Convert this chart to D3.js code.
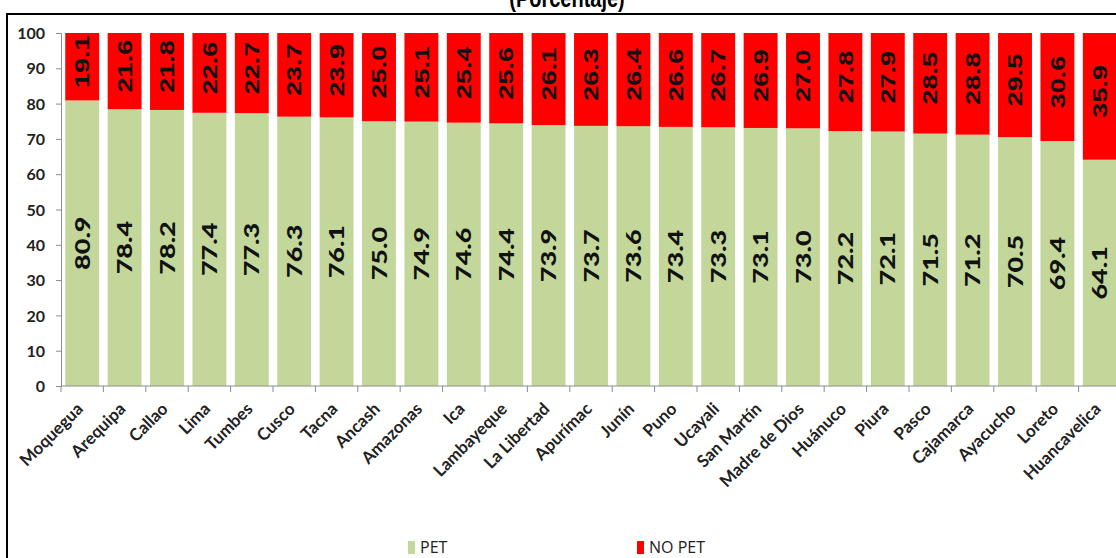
<!DOCTYPE html>
<html>
<head>
<meta charset="utf-8">
<script src="https://cdn.jsdelivr.net/npm/d3@7"></script>
<style>
  html, body { margin: 0; padding: 0; background: #fff; }
  svg { display: block; }
</style>
</head>
<body>
<svg id="chart" width="1116" height="558"></svg>
<script>
const categories = ["Moquegua","Arequipa","Callao","Lima","Tumbes","Cusco","Tacna","Ancash","Amazonas","Ica","Lambayeque","La Libertad","Apurímac","Junín","Puno","Ucayali","San Martín","Madre de Dios","Huánuco","Piura","Pasco","Cajamarca","Ayacucho","Loreto","Huancavelica"];
const pet   = [80.9,78.4,78.2,77.4,77.3,76.3,76.1,75.0,74.9,74.6,74.4,73.9,73.7,73.6,73.4,73.3,73.1,73.0,72.2,72.1,71.5,71.2,70.5,69.4,64.1];
const noPet = [19.1,21.6,21.8,22.6,22.7,23.7,23.9,25.0,25.1,25.4,25.6,26.1,26.3,26.4,26.6,26.7,26.9,27.0,27.8,27.9,28.5,28.8,29.5,30.6,35.9];
const yTicks = [0,10,20,30,40,50,60,70,80,90,100];
const seriesNames = ["PET","NO PET"];
const title = "(Porcentaje)";

const colors = { "PET": "#c4d79b", "NO PET": "#ff0000" };

const svg = d3.select("#chart");

// frame
svg.append("rect").attr("x", 7).attr("y", 14).attr("width", 1200).attr("height", 700)
  .attr("fill", "none").attr("stroke", "#000").attr("stroke-width", 2);

// title (mostly cut off at top, as in the source)
svg.append("text").attr("x", 567).attr("y", 7)
  .attr("text-anchor", "middle")
  .attr("font-family", "Liberation Sans, Arial, sans-serif")
  .attr("font-weight", "bold").attr("font-size", 20)
  .attr("transform", "translate(0,7) scale(1,1.25) translate(0,-7)")
  .text(title);

const x = d3.scaleBand().domain(categories).range([61, 1121]).paddingInner(0.2).paddingOuter(0.1);
const y = d3.scaleLinear().domain([0, 100]).range([386, 33]);

const rows = categories.map((c, i) => ({ cat: c, "PET": pet[i], "NO PET": noPet[i] }));
const stack = d3.stack().keys(seriesNames)(rows);

// bars
const layers = svg.append("g").selectAll("g").data(stack).join("g")
  .attr("fill", d => colors[d.key]);
layers.selectAll("rect").data(d => d).join("rect")
  .attr("x", d => x(d.data.cat))
  .attr("width", x.bandwidth())
  .attr("y", d => y(Math.min(d[1], 100)))
  .attr("height", d => y(d[0]) - y(Math.min(d[1], 100)));

// y axis
const yAxis = svg.append("g").attr("transform", "translate(61,0)")
  .call(d3.axisLeft(y).tickValues(yTicks).tickSize(5).tickPadding(11));
yAxis.select(".domain").attr("stroke", "#8c8c8c");
yAxis.selectAll(".tick line").attr("stroke", "#8c8c8c");
yAxis.selectAll(".tick text")
  .attr("font-family", "Lato, 'Open Sans', sans-serif")
  .attr("font-weight", "bold").attr("font-size", 16).attr("fill", "#222")
  .attr("dy", "0.35em");

// x axis
const step = x.step();
const xAxisG = svg.append("g").attr("transform", "translate(0,386)");
xAxisG.append("line").attr("x1", 61).attr("x2", 1121).attr("y1", 0).attr("y2", 0)
  .attr("stroke", "#8c8c8c");
xAxisG.selectAll("line.tk").data(categories).join("line").attr("class", "tk")
  .attr("x1", d => x(d) - step * x.paddingInner() / 2)
  .attr("x2", d => x(d) - step * x.paddingInner() / 2)
  .attr("y1", 0).attr("y2", 6).attr("stroke", "#8c8c8c");
xAxisG.selectAll("text").data(categories).join("text")
  .attr("text-anchor", "end")
  .attr("font-family", "Lato, 'Open Sans', sans-serif")
  .attr("font-weight", "bold").attr("font-size", 17).attr("fill", "#222")
  .attr("transform", d => `translate(${x(d) + x.bandwidth() / 2 + 2},${24}) rotate(-45)`)
  .text(d => d);

// value labels
const labG = svg.append("g");
labG.selectAll("text.pet").data(rows).join("text").attr("class", "pet")
  .attr("text-anchor", "middle").attr("dominant-baseline", "central")
  .attr("font-family", "Lato, 'Open Sans', sans-serif")
  .attr("font-weight", 900).attr("font-size", 20).attr("fill", "#111")
  .attr("transform", d => `translate(${x(d.cat) + x.bandwidth() / 2},${y(d["PET"] / 2)}) rotate(-90) scale(1.35,1)`)
  .text(d => d["PET"].toFixed(1));
labG.selectAll("text.nopet").data(rows).join("text").attr("class", "nopet")
  .attr("text-anchor", "middle").attr("dominant-baseline", "central")
  .attr("font-family", "Liberation Sans, Arial, sans-serif")
  .attr("font-weight", "bold").attr("font-size", 20).attr("fill", "#111")
  .attr("transform", d => `translate(${x(d.cat) + x.bandwidth() / 2},${y(d["PET"] + d["NO PET"] / 2) - 5}) rotate(-90) scale(1.35,1)`)
  .text(d => d["NO PET"].toFixed(1));

// legend
const legendPos = [{ key: "PET", x: 408 }, { key: "NO PET", x: 637 }];
const lg = svg.append("g").selectAll("g").data(legendPos).join("g")
  .attr("transform", d => `translate(${d.x},541)`);
lg.append("rect").attr("width", 7).attr("height", 13).attr("fill", d => colors[d.key]);
lg.append("text").attr("x", 12).attr("y", 12)
  .attr("font-family", "'Open Sans', sans-serif").attr("font-size", 16).attr("fill", "#222")
  .text(d => d.key);
</script>
</body>
</html>
